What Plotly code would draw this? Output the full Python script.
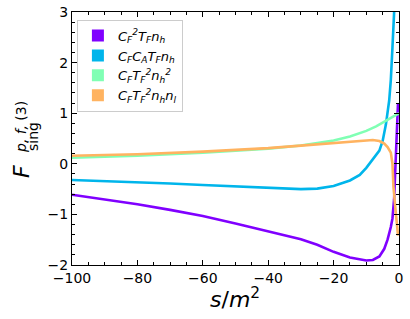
import plotly.graph_objects as go

# ---- data ----
s_purple = [-100, -90, -80, -70, -60, -50, -40, -30, -25, -22, -20, -15, -12, -10, -8, -6, -4.5, -3.5, -2.5, -2, -1.5, -1, -0.6, -0.3]
y_purple = [-0.61, -0.70, -0.80, -0.91, -1.03, -1.18, -1.34, -1.49, -1.60, -1.68, -1.74, -1.85, -1.89, -1.91, -1.90, -1.83, -1.68, -1.50, -1.25, -1.08, -0.70, 0.0, 0.8, 1.2]

s_cyan = [-100, -90, -80, -70, -60, -50, -40, -30, -25, -20, -15, -12, -10, -8, -6, -5, -4, -3, -2.5, -2, -1.5, -1.45]
y_cyan = [-0.32, -0.34, -0.36, -0.39, -0.42, -0.45, -0.48, -0.50, -0.49, -0.44, -0.33, -0.22, -0.08, 0.08, 0.26, 0.45, 0.78, 1.25, 1.66, 2.3, 2.98, 3.05]

s_green = [-100, -80, -60, -40, -30, -20, -15, -10, -7, -5, -3, -1, 0]
y_green = [0.12, 0.16, 0.22, 0.30, 0.36, 0.46, 0.54, 0.65, 0.74, 0.82, 0.89, 0.96, 1.0]

s_orange = [-100, -80, -60, -40, -30, -20, -15, -10, -8, -6, -4.5, -3.5, -2.5, -2, -1.7, -1, -0.3]
y_orange = [0.16, 0.19, 0.24, 0.31, 0.36, 0.41, 0.44, 0.47, 0.47, 0.45, 0.40, 0.33, 0.22, 0.0, -0.45, -0.95, -1.42]

labels = [
    "<i>C<sub>F</sub><sup>2</sup>T<sub>F</sub>n<sub>h</sub></i>",
    "<i>C<sub>F</sub>C<sub>A</sub>T<sub>F</sub>n<sub>h</sub></i>",
    "<i>C<sub>F</sub>T<sub>F</sub><sup>2</sup>n<sub>h</sub><sup>2</sup></i>",
    "<i>C<sub>F</sub>T<sub>F</sub><sup>2</sup>n<sub>h</sub>n<sub>l</sub></i>",
]
colors = ["#8000ff", "#00b5eb", "#80ffb4", "#ffb360"]

series = [(s_purple, y_purple), (s_cyan, y_cyan), (s_green, y_green), (s_orange, y_orange)]

fig = go.Figure()
for (xs, ys), c in zip(series, colors):
    fig.add_trace(go.Scatter(x=xs, y=ys, mode="lines", line=dict(color=c, width=2.6),
                             showlegend=False, hoverinfo="skip"))
for lab, c in zip(labels, colors):
    fig.add_trace(go.Scatter(x=[None], y=[None], mode="markers", name=lab,
                             marker=dict(symbol="square", size=12, color=c)))

font = "DejaVu Sans"
axis_common = dict(showline=True, linecolor="black", linewidth=1, mirror="ticks",
                   ticks="inside", ticklen=5, tickcolor="black", showgrid=False,
                   zeroline=False, automargin=False,
                   tickfont=dict(family=font, size=14, color="black"))

fig.update_layout(
    width=410, height=319,
    margin=dict(l=72, r=11, t=12, b=54),
    paper_bgcolor="white", plot_bgcolor="white",
    font=dict(family=font, color="black"),
    xaxis=dict(range=[-100, 0], dtick=20, tick0=0,
               minor=dict(dtick=5, ticks="inside", ticklen=3, tickcolor="black"),
               **axis_common),
    yaxis=dict(range=[-2, 3], dtick=1, tick0=0,
               minor=dict(dtick=0.2, ticks="inside", ticklen=3, tickcolor="black"),
               **axis_common),
    legend=dict(x=0.015, y=0.97, xanchor="left", yanchor="top",
                bgcolor="rgba(255,255,255,0.8)", bordercolor="#cccccc", borderwidth=1,
                font=dict(family=font, size=13), tracegroupgap=0, itemwidth=30),
    showlegend=True,
)

def px2paper(px, py):
    return (px - 72) / 327.0, (265 - py) / 253.0

ax, ay = px2paper(235, 298)
fig.add_annotation(text="<i>s</i>/<i>m</i><sup>2</sup>", x=ax, y=ay, xref="paper", yref="paper",
                   showarrow=False, font=dict(size=22, family=font), xanchor="center", yanchor="middle")
ax, ay = px2paper(21, 172)
fig.add_annotation(text="<i>F</i>", x=ax, y=ay, xref="paper", yref="paper", showarrow=False,
                   textangle=-90, font=dict(size=22, family=font), xanchor="center", yanchor="middle")
ax, ay = px2paper(21, 127)
fig.add_annotation(text="<i>p, f,</i> (3)", x=ax, y=ay, xref="paper", yref="paper", showarrow=False,
                   textangle=-90, font=dict(size=14, family=font), xanchor="center", yanchor="middle")
ax, ay = px2paper(33, 137)
fig.add_annotation(text="sing", x=ax, y=ay, xref="paper", yref="paper", showarrow=False,
                   textangle=-90, font=dict(size=14, family=font), xanchor="center", yanchor="middle")

fig.write_html("out.html", config={"displayModeBar": False},
               post_script="document.body.style.margin='0';document.body.style.overflow='hidden';")
